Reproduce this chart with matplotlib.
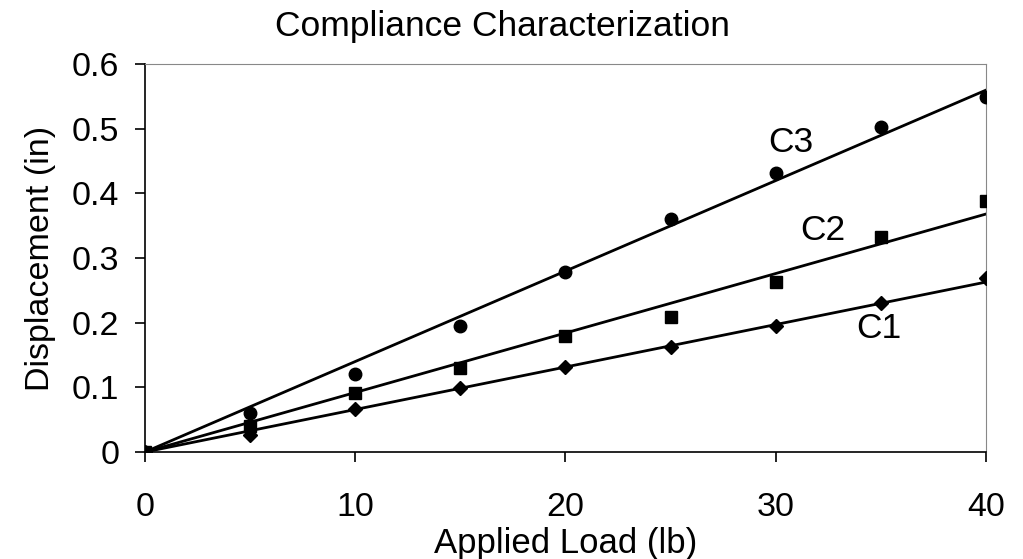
import numpy as np
import matplotlib
matplotlib.use("Agg")
import matplotlib.pyplot as plt

plt.rcParams['font.family'] = ['Liberation Sans', 'DejaVu Sans']

# Datos
carga = [0, 5, 10, 15, 20, 25, 30, 35, 40]
c1 = [0, 0.026, 0.066, 0.099, 0.131, 0.162, 0.195, 0.230, 0.269]
c2 = [0, 0.040, 0.091, 0.130, 0.180, 0.209, 0.263, 0.332, 0.388]
c3 = [0, 0.060, 0.121, 0.195, 0.278, 0.360, 0.431, 0.502, 0.549]

# Pendientes de las rectas de ajuste (por el origen)
pendientes = {"C1": 0.00657, "C2": 0.0092, "C3": 0.01399}

fig = plt.figure(figsize=(10.23, 5.59), dpi=100)
ax = fig.add_axes([0.1417, 0.1914, 0.8221, 0.6941])

x_fit = np.array([0, 40])
for nombre in ["C1", "C2", "C3"]:
    ax.plot(x_fit, pendientes[nombre] * x_fit, color='black', lw=2)

ax.plot(carga, c1, 'D', color='black', ms=7, ls='none', zorder=3)
ax.plot(carga, c2, 's', color='black', ms=8.5, ls='none', zorder=3)
ax.plot(carga, c3, 'o', color='black', ms=9, ls='none', zorder=3)

# Etiquetas de cada curva
ax.text(30.7, 0.464, "C3", fontsize=25.5, ha='center', va='baseline')
ax.text(32.25, 0.328, "C2", fontsize=25.5, ha='center', va='baseline')
ax.text(34.9, 0.176, "C1", fontsize=25.5, ha='center', va='baseline')

ax.set_xlim(0, 40)
ax.set_ylim(0, 0.6)
ax.set_xticks(range(0, 41, 10))
ax.set_yticks(np.arange(0, 0.61, 0.1))
ax.set_yticklabels(["0", "0.1", "0.2", "0.3", "0.4", "0.5", "0.6"])
ax.tick_params(axis='both', direction='out', length=7, width=1.2, labelsize=24.5)
ax.tick_params(axis='y', pad=11.5)
ax.tick_params(axis='x', pad=21.5)

for lado in ['top', 'right']:
    ax.spines[lado].set_color('#888888')
for lado in ['left', 'bottom']:
    ax.spines[lado].set_linewidth(1.2)

ax.set_xlabel("Applied Load (lb)", fontsize=25, labelpad=3)
ax.set_ylabel("Displacement (in)", fontsize=24.5, labelpad=11)
ax.set_title("Compliance Characterization", fontsize=25.5, pad=20, x=0.4245)

fig.savefig("out.png", dpi=100)
